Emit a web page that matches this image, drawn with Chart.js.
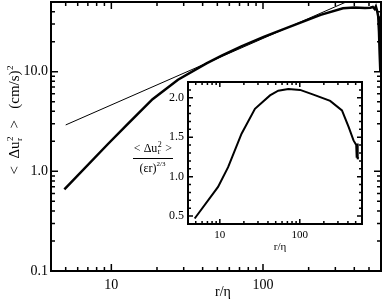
<!DOCTYPE html>
<html>
<head>
<meta charset="utf-8">
<script src="https://cdn.jsdelivr.net/npm/chart.js@4.4.0/dist/chart.umd.min.js"></script>
<style>
  html, body { margin: 0; padding: 0; background: #fff; }
  #wrap { position: relative; width: 382px; height: 299px; }
  #main { position: absolute; left: 0; top: 0; }
  #inset { position: absolute; left: 128px; top: 76px; }
</style>
</head>
<body>
<div id="wrap">
  <canvas id="main" width="382" height="299"></canvas>
  <canvas id="inset" width="242" height="184"></canvas>
</div>
<script>
// second order structure function <du_r^2> vs r/eta (main panel)
var mainR  = [4.9, 9.5, 12.7, 18.7, 27.5, 42.4, 53.8, 72, 101, 148, 240, 337, 400, 470, 510, 530, 545, 555, 565, 575, 582, 588, 594];
var mainS2 = [0.66, 1.88, 2.95, 5.3, 8.3, 12.1, 14.6, 17.9, 22.3, 28.0, 37.1, 43.2, 44.0, 43.5, 43.8, 44.6, 42.5, 45.0, 41, 36, 25, 15, 10];

// r^(2/3) reference line (two ends)
var slopeR  = [5, 350];
var slopeS2 = [2.92, 49.7];

// compensated <du_r^2>/(eps r)^(2/3) (inset)
var insetR = [4.85, 9.5, 12.7, 18.7, 27.5, 42.4, 53.8, 72, 101, 148, 240, 337, 408, 470, 508, 515, 522, 530, 537];
var insetC = [0.47, 0.87, 1.12, 1.545, 1.86, 2.03, 2.09, 2.11, 2.10, 2.04, 1.96, 1.84, 1.63, 1.46, 1.40, 1.24, 1.42, 1.22, 1.25];

// tick values
var xMajor = [10, 100];
var xMinor = [5, 6, 7, 8, 9, 20, 30, 40, 50, 60, 70, 80, 90, 200, 300, 400, 500, 600];
var yMajor = [0.1, 1, 10];
var yMajorLabels = ['0.1', '1.0', '10.0'];
var yMinor = [0.2, 0.3, 0.4, 0.5, 0.6, 0.7, 0.8, 0.9, 2, 3, 4, 5, 6, 7, 8, 9, 20, 30, 40, 50];
var insetYMajor = [0.5, 1.0, 1.5, 2.0];
var insetYLabels = ['0.5', '1.0', '1.5', '2.0'];
var insetYMinor = [0.4, 0.6, 0.7, 0.8, 0.9, 1.1, 1.2, 1.3, 1.4, 1.6, 1.7, 1.8, 1.9, 2.1, 2.2];

var serif = "'Liberation Serif', 'DejaVu Serif', serif";

function pts(xs, ys) {
  return xs.map(function (x, i) { return { x: x, y: ys[i] }; });
}

// no extra room for half labels at the axis ends
function noPad(s) {
  s.paddingTop = 0; s.paddingBottom = 0; s.paddingLeft = 0; s.paddingRight = 0;
}

// IDL style frame: box + inward ticks on all four sides
function frameTicks(t) {
  return {
    id: 'frameTicks',
    afterDatasetsDraw: function (chart) {
      var ctx = chart.ctx, a = chart.chartArea;
      var xs = chart.scales.x, ys = chart.scales.y;
      ctx.save();
      ctx.strokeStyle = '#000';
      ctx.lineWidth = 1.5;
      function xt(v, len) {
        var p = xs.getPixelForValue(v);
        ctx.beginPath();
        ctx.moveTo(p, a.bottom); ctx.lineTo(p, a.bottom - len);
        ctx.moveTo(p, a.top); ctx.lineTo(p, a.top + len);
        ctx.stroke();
      }
      function yt(v, len) {
        var p = ys.getPixelForValue(v);
        ctx.beginPath();
        ctx.moveTo(a.left, p); ctx.lineTo(a.left + len, p);
        ctx.moveTo(a.right, p); ctx.lineTo(a.right - len, p);
        ctx.stroke();
      }
      t.xMajor.forEach(function (v) { xt(v, t.major); });
      t.xMinor.forEach(function (v) { xt(v, t.minor); });
      t.yMajor.forEach(function (v) { yt(v, t.major); });
      t.yMinor.forEach(function (v) { yt(v, t.minor); });
      ctx.lineWidth = 2;
      ctx.strokeRect(a.left, a.top, a.right - a.left, a.bottom - a.top);
      ctx.restore();
    }
  };
}

// draws "< Δu" with stacked sub r / sup 2, then " >"
function drawDu(ctx, x, y, big, small, gap) {
  ctx.font = big + 'px ' + serif;
  ctx.fillText('<' + gap + '\u0394u', x, y);
  x += ctx.measureText('<' + gap + '\u0394u').width;
  ctx.font = small + 'px ' + serif;
  ctx.fillText('2', x + 0.5, y - big * 0.42);
  ctx.fillText('r', x + 0.5, y + big * 0.18);
  x += ctx.measureText('2').width + 1;
  ctx.font = big + 'px ' + serif;
  ctx.fillText(gap + '>', x, y);
  return x + ctx.measureText(gap + '>').width;
}
function duWidth(ctx, big, small, gap) {
  ctx.font = big + 'px ' + serif;
  var w = ctx.measureText('<' + gap + '\u0394u').width + ctx.measureText(gap + '>').width + 1;
  ctx.font = small + 'px ' + serif;
  return w + ctx.measureText('2').width;
}

var mainTitles = {
  id: 'mainTitles',
  afterDraw: function (chart) {
    var ctx = chart.ctx;
    ctx.save();
    ctx.fillStyle = '#000';
    ctx.textBaseline = 'alphabetic';
    // x title
    ctx.font = '14px ' + serif;
    ctx.textAlign = 'center';
    ctx.fillText('r/\u03b7', 223, 296);
    // y title, rotated
    ctx.textAlign = 'left';
    ctx.translate(19, 120);
    ctx.rotate(-Math.PI / 2);
    var tail = '   (cm/s)';
    var w = duWidth(ctx, 15, 9, '  ');
    ctx.font = '15px ' + serif;
    w += ctx.measureText(tail).width + 5;
    var x = -w / 2;
    x = drawDu(ctx, x, 0, 15, 9, '  ');
    ctx.font = '15px ' + serif;
    ctx.fillText(tail, x, 0);
    x += ctx.measureText(tail).width;
    ctx.font = '9px ' + serif;
    ctx.fillText('2', x + 0.5, -6);
    ctx.restore();
  }
};

var insetTitles = {
  id: 'insetTitles',
  afterDraw: function (chart) {
    var ctx = chart.ctx;
    ctx.save();
    ctx.fillStyle = '#000';
    ctx.strokeStyle = '#000';
    ctx.textBaseline = 'alphabetic';
    ctx.font = '11px ' + serif;
    ctx.textAlign = 'center';
    ctx.fillText('r/\u03b7', 152, 174);
    ctx.textAlign = 'left';
    // fraction label
    var cx = 25;
    var w = duWidth(ctx, 12, 8, ' ');
    drawDu(ctx, cx - w / 2, 76, 12, 8, ' ');
    ctx.lineWidth = 1;
    ctx.beginPath();
    ctx.moveTo(cx - 20, 82.5); ctx.lineTo(cx + 20, 82.5);
    ctx.stroke();
    ctx.font = '12px ' + serif;
    var d = '(\u03b5r)';
    var dw = ctx.measureText(d).width;
    ctx.fillText(d, cx - (dw + 10) / 2, 96);
    ctx.font = '7px ' + serif;
    ctx.fillText('2/3', cx - (dw + 10) / 2 + dw, 90);
    ctx.restore();
  }
};

new Chart(document.getElementById('main'), {
  type: 'scatter',
  data: {
    datasets: [
      { data: pts(mainR, mainS2), showLine: true, borderColor: '#000', borderWidth: 2.5, pointRadius: 0, tension: 0 },
      { data: pts(slopeR, slopeS2), showLine: true, borderColor: '#000', borderWidth: 1, pointRadius: 0, tension: 0 }
    ]
  },
  options: {
    responsive: false,
    animation: false,
    layout: { padding: { left: 0, top: 2, right: 1, bottom: 0 } },
    plugins: { legend: { display: false }, tooltip: { enabled: false } },
    scales: {
      x: {
        type: 'logarithmic', min: 4, max: 600,
        grid: { display: false, drawTicks: false },
        border: { display: false },
        afterBuildTicks: function (s) { s.ticks = xMajor.map(function (v) { return { value: v }; }); },
        afterFit: function (s) { s.height = 28; noPad(s); },
        ticks: {
          color: '#000', padding: 6, maxRotation: 0,
          font: { family: serif, size: 14 },
          callback: function (v) { return String(v); }
        }
      },
      y: {
        type: 'logarithmic', min: 0.1, max: 50,
        grid: { display: false, drawTicks: false },
        border: { display: false },
        afterBuildTicks: function (s) { s.ticks = yMajor.map(function (v) { return { value: v }; }); },
        afterFit: function (s) { s.width = 51; noPad(s); },
        ticks: {
          color: '#000', padding: 3,
          font: { family: serif, size: 14 },
          callback: function (v) { return yMajorLabels[yMajor.indexOf(v)]; }
        }
      }
    }
  },
  plugins: [frameTicks({ xMajor: xMajor, xMinor: xMinor, yMajor: yMajor, yMinor: yMinor, major: 7, minor: 4 }), mainTitles]
});

new Chart(document.getElementById('inset'), {
  type: 'scatter',
  data: {
    datasets: [
      { data: pts(insetR, insetC), showLine: true, borderColor: '#000', borderWidth: 2, pointRadius: 0, tension: 0 }
    ]
  },
  options: {
    responsive: false,
    animation: false,
    layout: { padding: { left: 0, top: 6, right: 8, bottom: 0 } },
    plugins: { legend: { display: false }, tooltip: { enabled: false } },
    scales: {
      x: {
        type: 'logarithmic', min: 4, max: 600,
        grid: { display: false, drawTicks: false },
        border: { display: false },
        afterBuildTicks: function (s) { s.ticks = xMajor.map(function (v) { return { value: v }; }); },
        afterFit: function (s) { s.height = 36; noPad(s); },
        ticks: {
          color: '#000', padding: 5, maxRotation: 0,
          font: { family: serif, size: 11 },
          callback: function (v) { return String(v); }
        }
      },
      y: {
        type: 'linear', min: 0.4, max: 2.2,
        grid: { display: false, drawTicks: false },
        border: { display: false },
        afterBuildTicks: function (s) { s.ticks = insetYMajor.map(function (v) { return { value: v }; }); },
        afterFit: function (s) { s.width = 60; noPad(s); },
        ticks: {
          color: '#000', padding: 4,
          font: { family: serif, size: 12 },
          callback: function (v) { return insetYLabels[insetYMajor.indexOf(v)]; }
        }
      }
    }
  },
  plugins: [frameTicks({ xMajor: xMajor, xMinor: xMinor, yMajor: insetYMajor, yMinor: insetYMinor, major: 5, minor: 3 }), insetTitles]
});
</script>
</body>
</html>
